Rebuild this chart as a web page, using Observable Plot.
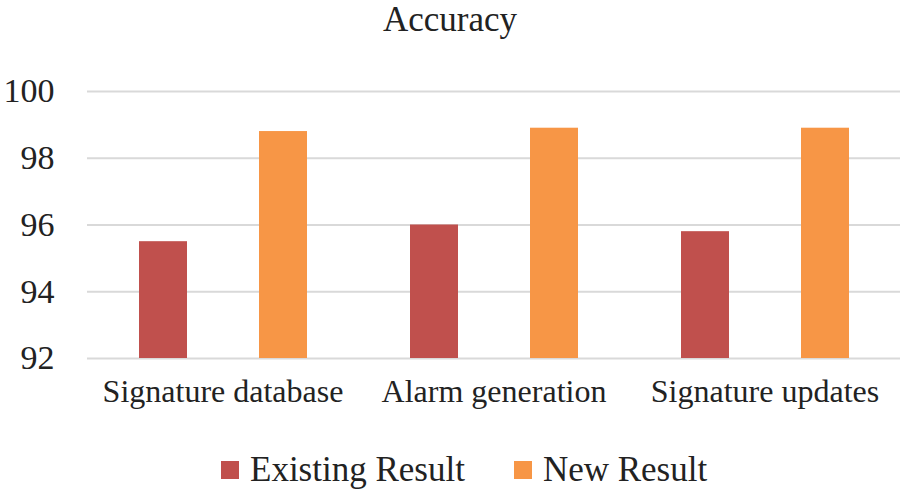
<!DOCTYPE html>
<html>
<head>
<meta charset="utf-8">
<script src="https://cdn.jsdelivr.net/npm/d3@7"></script>
<script src="https://cdn.jsdelivr.net/npm/@observablehq/plot@0.6"></script>
<style>
  html, body { margin: 0; padding: 0; background: #fff; }
  body { width: 900px; height: 491px; overflow: hidden; font-family: "Liberation Serif", "Times New Roman", serif; color: #222; }
  #title { height: 50px; font-size: 35px; line-height: 40px; text-align: center; }
  #legend { display: flex; align-items: center; padding-left: 221px; padding-top: 20px; height: 40px; font-size: 35px; line-height: 40px; }
  .item { display: flex; align-items: center; margin-right: 49px; }
  .sw { width: 18px; height: 18px; margin-right: 11px; }
  #chart svg, #chart svg text { font-family: "Liberation Serif", "Times New Roman", serif !important; }
</style>
</head>
<body>
<div id="title">Accuracy</div>
<div id="chart"></div>
<div id="legend"></div>
<script>
const categories = ["Signature database", "Alarm generation", "Signature updates"];
const series = ["Existing Result", "New Result"];
const existingValues = [95.5, 96.0, 95.8];
const newValues = [98.8, 98.9, 98.9];
const yTicks = [92, 94, 96, 98, 100];
const colors = ["#c0504d", "#f79646"];
const serif = "Liberation Serif";

const data = [];
categories.forEach((c, i) => {
  data.push({category: c, series: series[0], value: existingValues[i]});
  data.push({category: c, series: series[1], value: newValues[i]});
});

const chart = Plot.plot({
  width: 900,
  height: 380,
  marginTop: 41,
  marginBottom: 72,
  marginLeft: 86,
  marginRight: 0,
  style: {fontFamily: serif, color: "#222", background: "transparent"},
  fx: {domain: categories, padding: 0, label: null},
  x: {domain: series, axis: null, paddingInner: 0.603, paddingOuter: 0.4236},
  y: {domain: [yTicks[0], yTicks[yTicks.length - 1]], label: null},
  color: {domain: series, range: colors},
  marks: [
    Plot.gridY(yTicks, {stroke: "#d9d9d9", strokeOpacity: 1, strokeWidth: 2}),
    Plot.barY(data, {fx: "category", x: "series", y1: () => yTicks[0], y2: "value", fill: "series"}),
    Plot.axisY(yTicks, {tickSize: 0, tickPadding: 33, fontSize: 34, fontFamily: serif, label: null}),
    Plot.axisFx({anchor: "bottom", tickSize: 0, tickPadding: 21, fontSize: 32, fontFamily: serif, label: null})
  ]
});
document.getElementById("chart").appendChild(chart);

const legend = document.getElementById("legend");
series.forEach((s, i) => {
  const item = document.createElement("div");
  item.className = "item";
  const sw = document.createElement("div");
  sw.className = "sw";
  sw.style.background = colors[i];
  const label = document.createElement("span");
  label.textContent = s;
  item.appendChild(sw);
  item.appendChild(label);
  legend.appendChild(item);
});
</script>
</body>
</html>
